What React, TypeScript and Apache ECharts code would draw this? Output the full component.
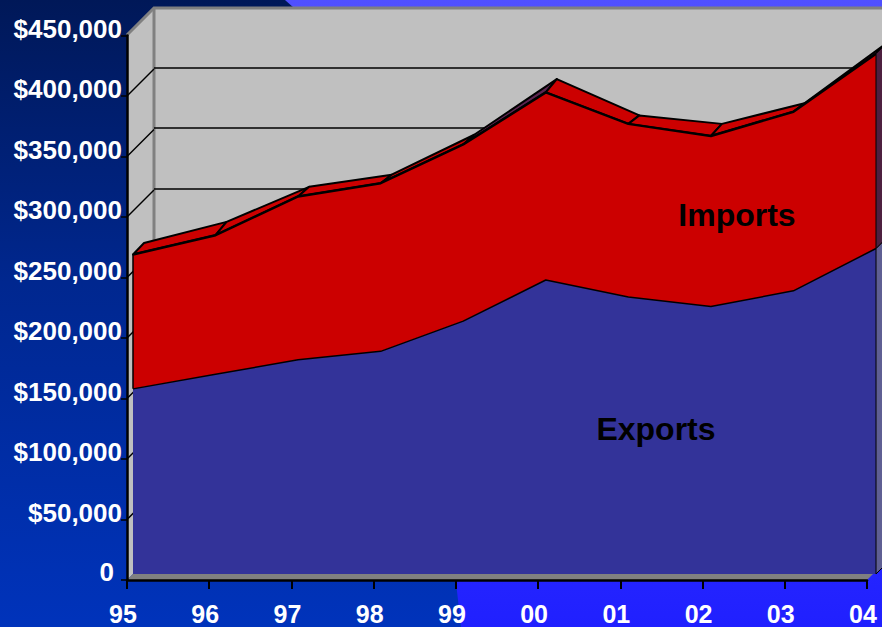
import React, { useEffect, useRef } from "react";
import * as echarts from "echarts";

const years = ["95", "96", "97", "98", "99", "00", "01", "02", "03", "04"];
const exportsValues = [153000, 165000, 177000, 184000, 209000, 243000, 229000, 221000, 234000, 269000];
const importsValues = [111000, 115000, 135000, 139000, 146000, 155000, 143000, 141000, 148000, 161000];
// The rear edge of the 3D ridge, as it reads on the front face's scale.
const rearRidge = [273600, 291000, 320000, 330000, 363000, 409000, 379000, 372000, 389000, 439000];
const yTicks = [0, 50000, 100000, 150000, 200000, 250000, 300000, 350000, 400000, 450000];
const labelsData = [
  { name: "Imports", cat: 7.316, value: 297000 },
  { name: "Exports", cat: 6.335, value: 120000 },
];

const FONT = "Liberation Sans";
const RED = "#cc0000";
const BLUE = "#333399";
const SD = { x: 11, y: -11 };
const WD = 27;

const totals = exportsValues.map((v, i) => v + importsValues[i]);

export default function App() {
  const ref = useRef<HTMLDivElement>(null);
  useEffect(() => {
    const chart = echarts.init(ref.current!, null, { renderer: "svg" });
    const hiddenAxis = { show: false };
    chart.setOption({
      animation: false,
      backgroundColor: "transparent",
      graphic: {
        elements: [
          { type: "rect", silent: true, shape: { x: 0, y: 0, width: 882, height: 627 },
            style: { fill: { type: "linear", x: 0, y: 0, x2: 0, y2: 1, colorStops: [
              { offset: 0, color: "#001858" }, { offset: 0.45, color: "#00278f" }, { offset: 1, color: "#0033bb" } ] } } },
          { type: "polygon", silent: true, shape: { points: [[285, 0], [882, 0], [882, 627], [461, 627], [456, 582], [294, 8]] },
            style: { fill: { type: "linear", x: 0, y: 0, x2: 0, y2: 1, colorStops: [
              { offset: 0, color: "#5050ff" }, { offset: 1, color: "#2020ff" } ] } } },
          { type: "rect", silent: true, shape: { x: 154, y: 8, width: 728, height: 545 }, style: { fill: "#c0c0c0" } },
          { type: "polygon", silent: true, shape: { points: [[127, 35], [154, 8], [154, 553], [127, 580]] }, style: { fill: "#c0c0c0" } },
          { type: "polygon", silent: true, shape: { points: [[127, 580], [154, 553], [894, 553], [867, 580]] }, style: { fill: "#808080" } },
          { type: "polyline", silent: true, shape: { points: [[127, 35], [154, 8], [882, 8]] }, style: { fill: "none", stroke: "#808080", lineWidth: 3 } },
          { type: "line", silent: true, shape: { x1: 154, y1: 8, x2: 154, y2: 553 }, style: { stroke: "#808080", lineWidth: 3 } },
        ],
      },
      grid: [
        { left: 127, top: 35.5, width: 740, height: 544.5 },
        { left: 154, top: 7, width: 740, height: 544.5 },
        { left: 133, top: 29.5, width: 743, height: 544.5 },
      ],
      xAxis: [
        { gridIndex: 0, type: "category", data: years, boundaryGap: false, z: 6,
          axisLine: { show: true, lineStyle: { color: "#000", width: 2.5 } },
          axisTick: { show: true, alignWithLabel: true, length: 9, lineStyle: { color: "#000", width: 2 } },
          axisLabel: { show: true, interval: 0, color: "#fff", fontFamily: FONT, fontWeight: "bold", fontSize: 25, margin: 21, padding: [0, 8, 0, 0] } },
        { gridIndex: 1, type: "category", data: years, boundaryGap: false, ...hiddenAxis },
        { gridIndex: 2, type: "category", data: years, boundaryGap: false, ...hiddenAxis },
      ],
      yAxis: [
        { gridIndex: 0, type: "value", min: 0, max: 450000, interval: 50000, z: 6,
          axisLine: { show: true, lineStyle: { color: "#000", width: 2.5 } },
          axisTick: { show: true, length: 6, lineStyle: { color: "#000", width: 1.5 } },
          splitLine: { show: false },
          axisLabel: { show: true, color: "#fff", fontFamily: FONT, fontWeight: "bold", fontSize: 26, margin: 5, padding: [0, 0, 14, 0],
            formatter: (v: number) => (v === 0 ? "{z|0}" : "$" + v.toLocaleString("en-US")),
            rich: { z: { color: "#fff", fontFamily: FONT, fontWeight: "bold", fontSize: 26, padding: [0, 8, 3, 0] } } } },
        { gridIndex: 1, type: "value", min: 0, max: 450000, interval: 50000, z: 1,
          axisLine: { show: false }, axisTick: { show: false }, axisLabel: { show: false },
          splitLine: { show: true, showMinLine: false, showMaxLine: false, lineStyle: { color: "#000", width: 1.5 } } },
        { gridIndex: 2, type: "value", min: 0, max: 450000, interval: 50000, ...hiddenAxis },
      ],
      series: [
        {
          type: "custom", name: "wall diagonals", xAxisIndex: 0, yAxisIndex: 0, z: 1, silent: true,
          data: yTicks.filter((v) => v > 0 && v < 450000).map((v) => [0, v]),
          encode: { x: 0, y: 1 },
          renderItem: (_p: any, api: any) => {
            const c = api.coord([0, api.value(1)]);
            return { type: "line", shape: { x1: c[0], y1: c[1], x2: c[0] + WD, y2: c[1] - WD }, style: { stroke: "#000", lineWidth: 1.5 } };
          },
        },
        {
          type: "custom", name: "Imports top", xAxisIndex: 2, yAxisIndex: 2, z: 3, silent: true,
          data: totals.slice(0, -1).map((t, i) => [i, t, totals[i + 1], rearRidge[i], rearRidge[i + 1]]),
          encode: { x: 0, y: 1 },
          renderItem: (_p: any, api: any) => {
            const i = api.value(0);
            const a = api.coord([i, api.value(1)]);
            const b = api.coord([i + 1, api.value(2)]);
            const ra = api.coord([i, api.value(3)]);
            const rb = api.coord([i + 1, api.value(4)]);
            const steep = (a[1] - b[1]) / (b[0] - a[0]) > 0.6;
            return { type: "polygon",
              shape: { points: [a, b, [rb[0] + SD.x, rb[1]], [ra[0] + SD.x, ra[1]]] },
              style: { fill: steep ? "#5c2450" : RED, stroke: "#000", lineWidth: 2, lineJoin: "round" } };
          },
        },
        {
          type: "line", name: "Exports", xAxisIndex: 2, yAxisIndex: 2, stack: "trade", z: 4, silent: true,
          data: exportsValues, symbol: "none", lineStyle: { color: "#000", width: 1.5 }, areaStyle: { color: BLUE, opacity: 1 },
        },
        {
          type: "line", name: "Imports", xAxisIndex: 2, yAxisIndex: 2, stack: "trade", z: 4, silent: true,
          data: importsValues, symbol: "none", lineStyle: { color: "#000", width: 2.5 }, areaStyle: { color: RED, opacity: 1 },
        },
        {
          type: "custom", name: "slab sides", xAxisIndex: 2, yAxisIndex: 2, z: 5, silent: true,
          data: [[9, 0, exportsValues[9]], [9, exportsValues[9], totals[9]]],
          encode: { x: 0, y: 1 },
          renderItem: (_p: any, api: any) => {
            const lo = api.coord([9, api.value(1)]);
            const hi = api.coord([9, api.value(2)]);
            const isImports = api.value(1) > 0;
            return { type: "polygon",
              shape: { points: [lo, hi, [hi[0] + SD.x, hi[1] + SD.y], [lo[0] + SD.x, lo[1] + SD.y]] },
              style: { fill: isImports ? "#4d2040" : "#5f5f93", stroke: "#000", lineWidth: 1 } };
          },
        },
        {
          type: "custom", name: "left edge", xAxisIndex: 2, yAxisIndex: 2, z: 5, silent: true,
          data: [[0, exportsValues[0], totals[0]]],
          encode: { x: 0, y: 1 },
          renderItem: (_p: any, api: any) => {
            const lo = api.coord([0, api.value(1)]);
            const hi = api.coord([0, api.value(2)]);
            return { type: "line", shape: { x1: lo[0], y1: lo[1], x2: hi[0], y2: hi[1] }, style: { stroke: "#000", lineWidth: 1.5 } };
          },
        },
        {
          type: "custom", name: "labels", xAxisIndex: 2, yAxisIndex: 2, z: 7, silent: true,
          data: labelsData.map((d) => [d.cat, d.value, d.name]),
          encode: { x: 0, y: 1 },
          renderItem: (_p: any, api: any) => {
            const d = labelsData[_p.dataIndex];
            const base = Math.floor(d.cat);
            const x0 = api.coord([base, d.value]);
            const x1 = api.coord([base + 1, d.value]);
            const x = x0[0] + (x1[0] - x0[0]) * (d.cat - base);
            return { type: "text", x, y: x0[1],
              style: { text: d.name, fill: "#000", font: `bold 32px "${FONT}"`, align: "center", verticalAlign: "middle" } };
          },
        },
      ],
    });
    return () => chart.dispose();
  }, []);
  return <div ref={ref} style={{ position: "absolute", left: 0, top: 0, width: 882, height: 627 }} />;
}
